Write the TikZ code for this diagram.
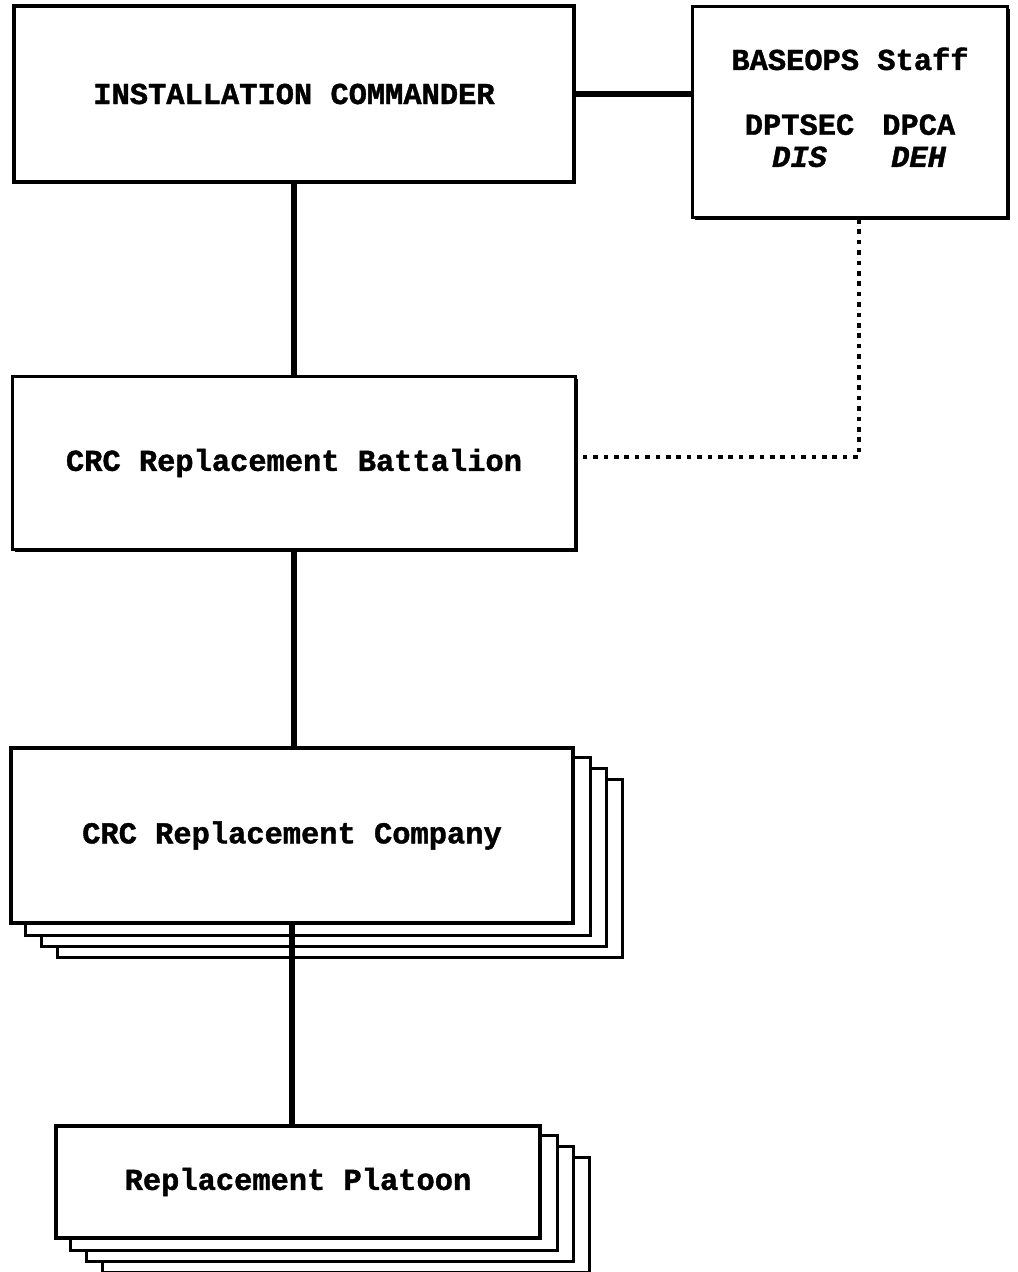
\documentclass[tikz,border=0pt]{standalone}
\usepackage{fontspec}
\usepackage{tikz}
\usetikzlibrary{shadows, backgrounds}
\newfontfamily\orgfont{Liberation Mono}[BoldFeatures={FakeBold=1.3}, BoldItalicFeatures={FakeBold=1.3}]
\tikzset{
  orgbox/.style={rectangle, draw=black, fill=white, line width=1.6pt, inner sep=0pt,
    align=center, font=\orgfont\bfseries\fontsize{15.2}{15}\selectfont,
    drop shadow={shadow xshift=1.2pt, shadow yshift=-1.2pt, fill=black, opacity=1}},
  stackline/.style={draw=black, fill=white, line width=1.6pt},
  orgline/.style={line width=2.7pt},
  dotline/.style={line width=2.3pt, dash pattern=on 2.3pt off 2.9pt}
}

\begin{document}
\begin{tikzpicture}[x=0.5pt, y=-0.5pt]
  \useasboundingbox (0,0) rectangle (1017,1272);
  % boxes
  \node[orgbox, minimum width=280pt, minimum height=88pt] (cmdr) at (294,94) {INSTALLATION COMMANDER};
  \node[orgbox, minimum width=157.5pt, minimum height=105.5pt] (staff) at (850,112) {%
    BASEOPS Staff\\[20pt]
    \renewcommand{\arraystretch}{1.07}%
    \begin{tabular}{@{}c@{\hspace{14pt}}c@{}}
      DPTSEC & DPCA\\
      \textit{DIS} & \textit{DEH}
    \end{tabular}};
  \node[orgbox, minimum width=281.5pt, minimum height=86.5pt] (bn) at (294,463) {CRC Replacement Battalion};
  \node[orgbox, minimum width=281pt, minimum height=87.5pt] (co) at (292,835.5) {CRC Replacement Company};
  \node[orgbox, minimum width=242pt, minimum height=56pt] (plt) at (298,1182) {Replacement Platoon};
  % stacked copies behind company and platoon
  \begin{pgfonlayer}{background}
    \foreach \k in {3,2,1} {
      \draw[stackline] ([shift={(16*\k,11*\k)}]co.north west) rectangle ([shift={(16*\k,11*\k)}]co.south east);
      \draw[stackline] ([shift={(16*\k,11*\k)}]plt.north west) rectangle ([shift={(16*\k,11*\k)}]plt.south east);
    }
  \end{pgfonlayer}
  % connectors
  \draw[orgline] (cmdr.east) -- (cmdr.east -| staff.west);
  \draw[orgline] (cmdr.south) -- (cmdr.south |- bn.north);
  \draw[orgline] (bn.south) -- (bn.south |- co.north);
  \draw[orgline] (co.south) -- (co.south |- plt.north);
  \draw[dotline] ([xshift=4.5pt]staff.south) |- ([yshift=3pt]bn.east);
\end{tikzpicture}
\end{document}
